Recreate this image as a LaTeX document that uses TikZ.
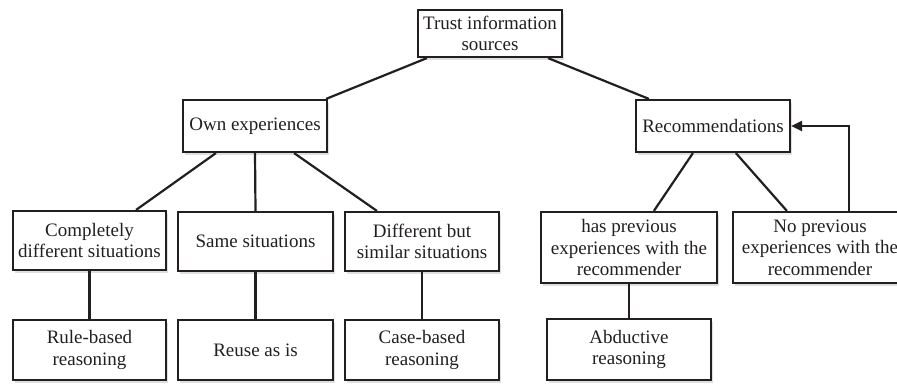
\documentclass[tikz,border=0pt]{standalone}
\usepackage{fontspec}
\setmainfont{Liberation Serif}
\newfontfamily\timesfont{Liberation Serif}
\usetikzlibrary{shadows,arrows.meta}
\definecolor{ink}{HTML}{231F20}
\begin{document}
\begin{tikzpicture}[x=1pt,y=-1pt,
  box/.style={draw=ink, line width=2.2pt, fill=white, align=center, inner sep=0pt,
    font=\timesfont\fontsize{19}{21.7}\selectfont, text=ink,
    drop shadow={opacity=0.25, shadow xshift=1.5pt, shadow yshift=-2.5pt}},
  conn/.style={draw=ink, line width=2.2pt}]
\clip (0,0) rectangle (897,383);
\fill[white] (0,0) rectangle (897,383);
\node[box, minimum width=144, minimum height=47] (top) at (490,33.5) {Trust information\\sources};
\node[box, minimum width=144, minimum height=52] (own) at (255,126) {Own experiences};
\node[box, minimum width=154, minimum height=52] (rec) at (713,126) {Recommendations};
\node[box, minimum width=153, minimum height=59] (cd) at (89.5,240.5) {Completely\\different situations};
\node[box, minimum width=155, minimum height=59] (same) at (255.5,241.5) {Same situations};
\node[box, minimum width=154, minimum height=59] (diff) at (422,241.5) {Different but\\similar situations};
\node[box, minimum width=176, minimum height=71] (has) at (629,247.5) {has previous\\experiences with the\\recommender};
\node[box, minimum width=174, minimum height=71] (nop) at (820,247.5) {No previous\\experiences with the\\recommender};
\node[box, minimum width=153, minimum height=60] (rule) at (89.5,350) {Rule-based\\reasoning};
\node[box, minimum width=155, minimum height=60] (reuse) at (255.5,350) {Reuse as is};
\node[box, minimum width=154, minimum height=60] (case) at (422,350) {Case-based\\reasoning};
\node[box, minimum width=164, minimum height=61] (abd) at (629,349.5) {Abductive\\reasoning};
\draw[conn] ([xshift=10pt]top.south west) -- ([xshift=-2pt]own.north east);
\draw[conn] ([xshift=-15pt]top.south east) -- ([xshift=14pt]rec.north west);
\draw[conn] ([xshift=34pt]own.south west) -- ([xshift=-31pt]cd.north east);
\draw[conn] (own.south) -- (same.north);
\draw[conn] ([xshift=-34pt]own.south east) -- ([xshift=33pt]diff.north west);
\draw[conn] ([xshift=58pt]rec.south west) -- ([xshift=114pt]has.north west);
\draw[conn] ([xshift=101pt]rec.south west) -- ([xshift=55pt]nop.north west);
\draw[conn, -{Triangle[length=11pt,width=10pt]}] ([xshift=117pt]nop.north west) |- (rec.east);
\draw[conn] (cd.south) -- (rule.north);
\draw[conn] (same.south) -- (reuse.north);
\draw[conn] (diff.south) -- (case.north);
\draw[conn] (has.south) -- (abd.north);
\end{tikzpicture}
\end{document}
